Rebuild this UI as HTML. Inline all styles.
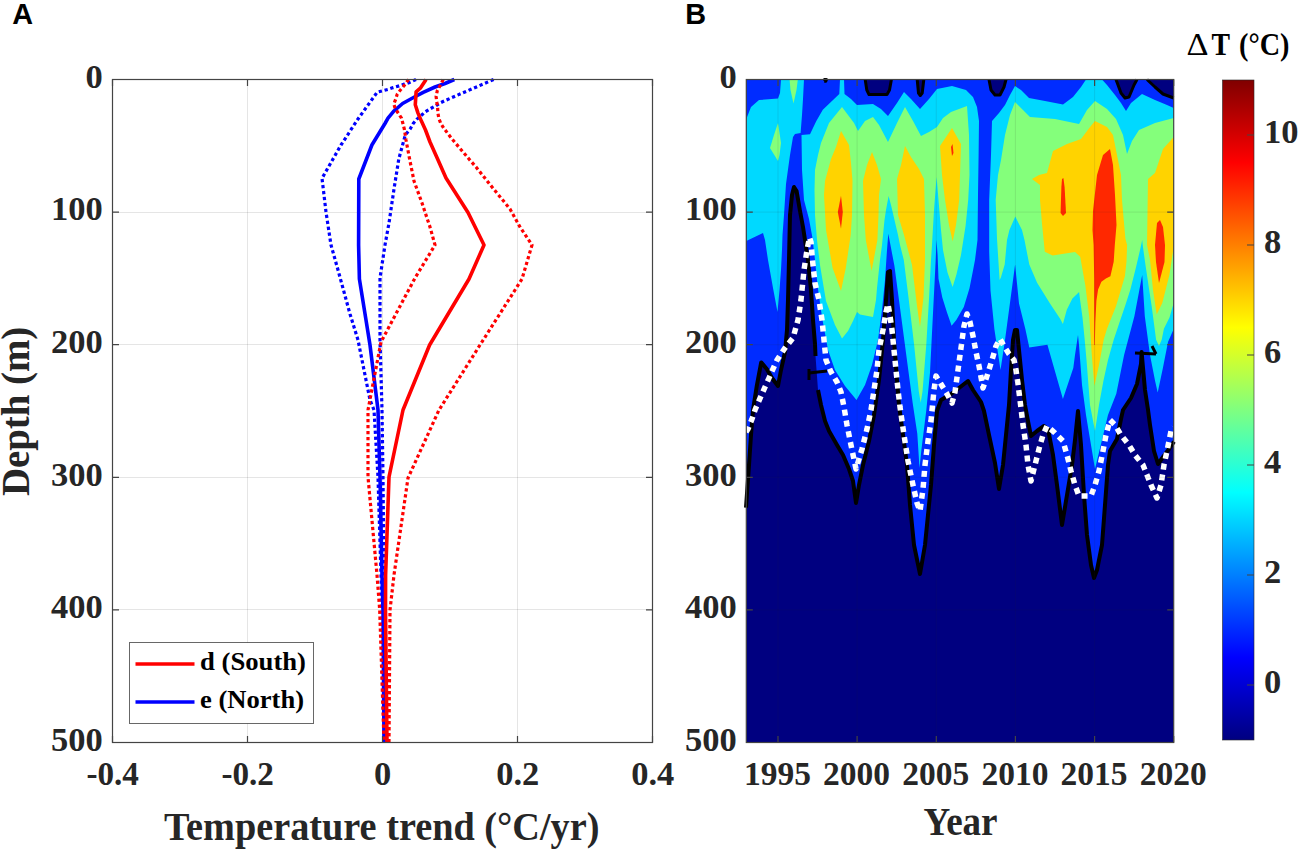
<!DOCTYPE html><html><head><meta charset="utf-8"><style>html,body{margin:0;padding:0;background:#fff;}svg{display:block;}</style></head><body><svg width="1299" height="851" viewBox="0 0 1299 851">
<rect width="1299" height="851" fill="#fff"/>
<g shape-rendering="crispEdges">
<line x1="247.5" y1="79.5" x2="247.5" y2="742.5" stroke="#262626" stroke-opacity="0.12" stroke-width="1"/>
<line x1="382.5" y1="79.5" x2="382.5" y2="742.5" stroke="#262626" stroke-opacity="0.12" stroke-width="1"/>
<line x1="517.5" y1="79.5" x2="517.5" y2="742.5" stroke="#262626" stroke-opacity="0.12" stroke-width="1"/>
<line x1="112.5" y1="212.1" x2="652.5" y2="212.1" stroke="#262626" stroke-opacity="0.12" stroke-width="1"/>
<line x1="112.5" y1="344.7" x2="652.5" y2="344.7" stroke="#262626" stroke-opacity="0.12" stroke-width="1"/>
<line x1="112.5" y1="477.3" x2="652.5" y2="477.3" stroke="#262626" stroke-opacity="0.12" stroke-width="1"/>
<line x1="112.5" y1="609.9" x2="652.5" y2="609.9" stroke="#262626" stroke-opacity="0.12" stroke-width="1"/>
</g>
<polyline points="416.0,79.5 409.7,82.4 404.4,84.1 399.1,85.9 393.2,87.6 387.9,89.4 377.2,92.2 358.0,119.0 341.0,145.0 322.0,178.3 324.0,195.0 326.0,212.0 331.0,245.0 338.0,270.0 350.0,314.0 358.0,340.0 370.0,400.0 374.0,410.0 378.0,477.0 381.0,575.0 382.0,610.0 384.0,742.5" fill="none" stroke="#0000ff" stroke-width="3.2" stroke-linejoin="round" stroke-dasharray="3.3 2.7"/>
<polyline points="493.6,79.5 445.0,100.6 440.2,102.9 435.5,105.9 430.2,108.8 425.5,111.7 421.4,115.3 416.7,119.4 413.2,123.5 410.3,128.8 405.3,135.0 398.8,159.0 394.0,189.0 389.0,223.0 385.0,245.0 380.0,278.0 380.0,340.0 382.0,410.0 383.0,477.0 384.0,575.0 385.0,610.0 385.5,742.5" fill="none" stroke="#0000ff" stroke-width="3.2" stroke-linejoin="round" stroke-dasharray="3.3 2.7"/>
<polyline points="454.3,79.5 445.0,83.5 435.0,87.0 423.2,92.3 414.4,97.0 402.6,103.5 393.8,111.1 388.0,118.2 385.0,123.5 371.9,145.0 358.8,179.0 358.6,245.0 359.4,279.0 366.0,320.0 370.0,345.0 378.0,410.0 380.0,477.0 382.0,575.0 383.0,610.0 384.0,742.5" fill="none" stroke="#0000ff" stroke-width="3.6" stroke-linejoin="round" />
<polyline points="408.5,79.5 404.4,85.3 400.9,89.4 397.3,94.1 395.6,99.4 393.8,104.1 395.3,108.8 398.5,113.5 401.5,118.2 402.9,123.5 404.4,129.4 406.0,140.0 409.6,159.0 414.0,181.0 422.0,203.0 430.0,227.0 435.0,245.0 415.0,278.0 381.0,342.0 368.0,410.0 368.0,477.0 377.0,575.0 379.7,610.0 384.0,742.5" fill="none" stroke="#ff0000" stroke-width="3.2" stroke-linejoin="round" stroke-dasharray="3.3 2.7"/>
<polyline points="443.2,79.5 439.9,85.9 437.3,90.6 436.1,96.5 436.7,101.7 437.6,107.0 437.9,112.9 438.8,118.2 440.8,123.5 443.8,128.2 452.0,139.0 469.0,159.0 476.0,167.0 492.0,187.0 510.0,209.0 520.0,227.0 532.0,245.0 522.0,279.0 480.0,345.0 439.0,410.0 408.0,478.0 394.0,575.0 390.0,610.0 389.0,742.5" fill="none" stroke="#ff0000" stroke-width="3.2" stroke-linejoin="round" stroke-dasharray="3.3 2.7"/>
<polyline points="426.1,79.5 420.3,88.2 416.1,91.8 415.3,104.7 417.9,112.9 421.4,121.1 425.5,130.0 430.0,142.0 437.6,159.0 446.0,178.0 468.0,212.5 484.0,245.0 469.0,279.0 429.6,345.0 403.0,410.0 389.0,477.0 385.6,575.0 385.5,610.0 387.0,742.5" fill="none" stroke="#ff0000" stroke-width="3.6" stroke-linejoin="round" />
<rect x="112.5" y="79.5" width="540.0" height="663.0" fill="none" stroke="#444" stroke-width="1.2"/>
<path d="M112.5,79.5v6.5M112.5,742.5v-6.5M247.5,79.5v6.5M247.5,742.5v-6.5M382.5,79.5v6.5M382.5,742.5v-6.5M517.5,79.5v6.5M517.5,742.5v-6.5M652.5,79.5v6.5M652.5,742.5v-6.5M112.5,79.5h6.5M652.5,79.5h-6.5M112.5,212.1h6.5M652.5,212.1h-6.5M112.5,344.7h6.5M652.5,344.7h-6.5M112.5,477.3h6.5M652.5,477.3h-6.5M112.5,609.9h6.5M652.5,609.9h-6.5M112.5,742.5h6.5M652.5,742.5h-6.5" stroke="#444" stroke-width="1.2" fill="none"/>
<rect x="129.5" y="642.5" width="184" height="81" fill="#fff" stroke="#262626" stroke-width="1" stroke-opacity="0.7"/>
<line x1="135.5" y1="664" x2="194.5" y2="664" stroke="#ff0000" stroke-width="3.6"/>
<line x1="135.5" y1="702" x2="194.5" y2="702" stroke="#0000ff" stroke-width="3.6"/>
<text x="200" y="670" font-family="Liberation Serif" font-size="26" font-weight="bold" fill="#000" text-anchor="start" textLength="106" lengthAdjust="spacingAndGlyphs">d (South)</text>
<text x="200" y="707.5" font-family="Liberation Serif" font-size="26" font-weight="bold" fill="#000" text-anchor="start" textLength="104" lengthAdjust="spacingAndGlyphs">e (North)</text>
<text x="102.8" y="87.7" font-family="Liberation Serif" font-size="34.5" font-weight="bold" fill="#262626" text-anchor="end" >0</text>
<text x="102.8" y="220.29999999999998" font-family="Liberation Serif" font-size="34.5" font-weight="bold" fill="#262626" text-anchor="end" >100</text>
<text x="102.8" y="352.9" font-family="Liberation Serif" font-size="34.5" font-weight="bold" fill="#262626" text-anchor="end" >200</text>
<text x="102.8" y="485.5" font-family="Liberation Serif" font-size="34.5" font-weight="bold" fill="#262626" text-anchor="end" >300</text>
<text x="102.8" y="618.1" font-family="Liberation Serif" font-size="34.5" font-weight="bold" fill="#262626" text-anchor="end" >400</text>
<text x="102.8" y="750.7" font-family="Liberation Serif" font-size="34.5" font-weight="bold" fill="#262626" text-anchor="end" >500</text>
<text x="112.7" y="784.5" font-family="Liberation Serif" font-size="34.5" font-weight="bold" fill="#262626" text-anchor="middle" textLength="52.5" lengthAdjust="spacingAndGlyphs">-0.4</text>
<text x="247.7" y="784.5" font-family="Liberation Serif" font-size="34.5" font-weight="bold" fill="#262626" text-anchor="middle" textLength="52.5" lengthAdjust="spacingAndGlyphs">-0.2</text>
<text x="382.7" y="784.5" font-family="Liberation Serif" font-size="34.5" font-weight="bold" fill="#262626" text-anchor="middle" >0</text>
<text x="517.7" y="784.5" font-family="Liberation Serif" font-size="34.5" font-weight="bold" fill="#262626" text-anchor="middle" >0.2</text>
<text x="652.7" y="784.5" font-family="Liberation Serif" font-size="34.5" font-weight="bold" fill="#262626" text-anchor="middle" >0.4</text>
<text x="164" y="839.5" font-family="Liberation Serif" font-size="39.5" font-weight="bold" fill="#262626" text-anchor="start" textLength="435.5" lengthAdjust="spacingAndGlyphs">Temperature trend (°C/yr)</text>
<g transform="translate(28.7,496) rotate(-90)"><text x="0" y="0" font-family="Liberation Serif" font-size="39.5" font-weight="bold" fill="#262626" text-anchor="start" textLength="169.3" lengthAdjust="spacingAndGlyphs">Depth (m)</text></g>
<rect x="746.3" y="79.5" width="427.4000000000001" height="663.0" fill="#000080"/>
<polygon points="746.3,79.5 1173.7,79.5 1173.7,441.6 1174.0,441.6 1169.0,449.0 1163.0,457.0 1158.0,464.0 1154.0,451.0 1150.0,425.0 1148.0,409.8 1145.0,390.0 1143.0,368.0 1141.6,352.0 1141.0,364.0 1137.0,384.0 1131.0,398.0 1123.0,410.0 1121.0,419.0 1117.0,439.0 1110.0,451.0 1108.0,465.0 1105.0,505.0 1102.0,545.0 1097.0,570.0 1094.0,578.0 1091.0,565.0 1087.0,535.0 1084.0,495.0 1081.0,445.0 1078.0,411.0 1075.0,440.0 1072.0,465.0 1067.0,495.0 1062.0,525.0 1057.0,485.0 1053.0,455.0 1048.0,429.0 1044.0,426.0 1037.0,431.0 1031.0,436.0 1028.0,421.0 1025.0,405.0 1022.0,380.0 1019.0,350.0 1017.0,330.0 1015.0,330.0 1013.0,340.0 1011.0,370.0 1009.0,405.0 1006.0,435.0 1003.0,465.0 999.0,489.0 995.0,463.0 989.0,435.0 984.0,411.0 981.0,402.0 973.0,390.0 968.0,381.0 959.0,388.0 951.0,394.0 941.0,400.0 937.0,411.0 934.0,445.0 931.0,485.0 928.0,515.0 925.0,545.0 920.0,574.0 914.0,545.0 910.0,505.0 907.0,465.0 903.0,435.0 899.0,405.0 897.0,380.0 894.0,340.0 892.0,300.0 890.0,271.0 888.0,272.0 886.0,300.0 883.0,340.0 879.0,380.0 874.0,415.0 869.0,441.0 863.0,465.0 859.0,485.0 856.0,503.0 853.0,481.0 849.0,469.0 843.0,455.0 837.0,445.0 829.0,431.0 825.0,421.0 821.0,405.0 818.0,390.0 815.5,356.0 815.0,344.0 813.0,320.0 811.0,290.0 808.0,260.0 805.0,240.0 803.0,227.0 800.0,211.0 796.6,191.0 794.0,187.0 792.0,195.0 790.0,215.0 789.0,260.0 788.0,300.0 787.0,330.0 785.0,352.0 781.0,370.0 778.0,386.0 772.0,378.0 766.8,369.0 761.2,362.4 756.8,385.9 753.0,410.0 751.0,435.0 749.0,465.0 746.0,507.7" fill="#002cff"/>
<polygon points="781.0,79.5 804.0,79.5 803.0,99.0 802.0,115.0 800.6,133.0 795.0,134.0 793.0,137.0 790.0,155.0 786.0,184.0 784.0,215.0 782.5,235.0 782.0,250.0 781.0,270.0 779.5,290.0 777.5,312.0 773.0,288.0 768.0,260.0 765.0,240.0 763.0,233.0 746.3,241.0 746.3,119.0 751.0,107.0 759.0,100.0 778.0,98.6 780.0,93.0" fill="#00d9ff"/>
<polygon points="840.0,79.5 844.0,79.5 844.5,94.0 851.0,99.0 857.0,105.0 873.0,104.0 881.0,109.0 888.0,116.0 897.0,103.0 904.0,92.0 911.0,99.0 920.0,109.0 929.0,99.0 937.0,89.0 952.0,86.0 966.0,90.0 973.0,97.0 977.0,107.0 979.0,121.0 978.6,155.0 978.0,195.0 977.5,240.0 975.0,260.0 973.2,269.4 969.5,288.2 963.8,307.0 956.3,320.1 951.6,325.7 947.0,312.6 942.3,297.6 938.5,278.8 937.6,255.0 936.5,240.0 935.7,260.0 933.8,297.6 931.9,335.1 930.0,372.7 926.3,410.2 921.5,449.0 919.5,468.0 917.3,433.7 912.7,403.2 906.6,357.4 900.5,311.6 894.4,265.8 888.3,233.7 887.0,250.0 885.0,280.0 882.0,310.0 878.0,340.0 872.0,365.0 865.0,385.0 856.5,400.0 845.0,386.0 835.0,370.0 828.0,350.0 822.0,317.0 817.6,286.0 815.0,260.0 812.3,237.0 809.0,219.0 804.0,200.0 802.0,170.0 801.5,135.0 810.0,134.3 816.2,121.3 822.8,109.8 839.3,94.0" fill="#00d9ff"/>
<polygon points="1086.0,79.5 1102.0,79.5 1107.0,85.0 1115.0,95.0 1121.0,103.0 1126.0,111.0 1131.0,103.0 1142.0,94.0 1155.0,100.0 1167.0,105.0 1173.7,108.0 1173.7,329.0 1168.0,342.0 1162.9,368.0 1157.7,392.5 1155.1,380.9 1150.0,355.0 1144.8,316.3 1142.2,275.0 1134.4,316.3 1124.1,355.0 1116.3,393.8 1108.0,415.0 1095.0,469.0 1086.0,415.0 1082.0,385.0 1079.0,345.0 1078.0,335.0 1075.0,355.0 1073.3,368.0 1062.9,399.0 1047.4,344.8 1029.3,347.4 1025.4,329.3 1019.0,303.4 1015.1,264.6 1009.9,303.4 1004.7,342.2 1000.5,370.0 998.3,355.2 994.4,329.3 990.5,290.5 989.2,251.7 989.2,200.0 991.0,155.0 992.0,121.0 999.0,113.0 1005.0,105.0 1010.0,95.0 1015.0,86.0 1021.0,90.0 1029.0,98.0 1045.0,101.0 1063.0,104.6 1073.0,97.0 1081.0,87.0" fill="#00d9ff"/>
<polygon points="789.6,79.5 797.8,79.5 796.5,90.0 793.5,103.5 790.5,90.0" fill="#84ff7b"/>
<polygon points="778.0,123.0 781.0,143.0 779.5,155.0 778.0,161.0 770.0,148.0 774.0,135.0" fill="#84ff7b"/>
<polygon points="821.0,143.0 829.0,123.0 842.0,107.0 854.0,123.0 858.0,131.0 865.0,121.0 873.0,117.0 879.0,125.0 888.0,142.0 897.0,123.0 905.0,107.0 913.0,121.0 921.0,136.0 929.0,132.0 937.0,127.0 943.0,118.0 951.0,112.0 967.0,106.0 969.0,135.0 969.5,175.0 968.2,200.0 965.6,225.8 961.0,255.0 956.3,275.0 952.6,287.0 947.5,272.4 943.0,250.0 941.0,230.0 936.6,177.0 934.0,210.0 932.0,244.8 931.0,260.0 929.1,297.6 926.3,344.5 922.5,391.5 920.7,402.7 918.8,391.5 914.1,344.5 908.5,297.6 903.8,260.0 900.0,245.0 898.0,235.0 894.5,220.0 891.0,205.0 888.6,196.0 886.0,210.0 884.5,220.0 883.0,235.0 882.0,245.0 880.0,260.0 877.0,288.0 876.0,300.0 873.0,317.0 860.0,314.5 857.0,312.0 853.0,321.0 848.0,331.0 842.0,338.5 835.0,325.0 826.0,301.0 820.0,265.0 817.0,240.0 815.0,215.0 814.5,190.0 815.0,170.0 818.0,155.0" fill="#84ff7b"/>
<polygon points="1015.0,102.0 1023.0,110.0 1030.0,117.0 1055.0,119.0 1079.0,124.0 1087.0,110.0 1095.0,101.0 1107.0,109.0 1116.0,119.0 1123.0,135.0 1127.0,154.0 1132.0,141.0 1139.0,130.0 1155.0,123.0 1173.7,118.0 1173.7,303.0 1169.5,317.5 1163.9,328.7 1161.7,339.8 1159.0,346.0 1156.1,339.8 1153.9,323.1 1151.7,306.4 1148.3,284.1 1145.0,261.7 1142.7,245.0 1142.2,240.0 1140.5,248.0 1136.0,267.3 1130.4,289.6 1124.9,306.4 1119.3,323.1 1113.7,339.8 1108.0,360.0 1103.4,380.9 1099.0,405.0 1095.0,431.0 1090.0,405.0 1086.5,360.0 1084.7,339.8 1082.5,317.5 1080.2,300.8 1079.1,291.9 1072.4,298.6 1066.8,309.7 1062.9,324.1 1060.3,319.0 1050.0,303.4 1037.1,282.7 1029.3,264.6 1024.5,240.0 1022.0,230.0 1015.3,216.5 1009.4,230.0 1007.0,240.0 1004.7,264.6 1000.9,277.6 999.6,280.0 997.0,238.8 995.7,200.0 998.0,175.0 1001.0,160.0 1005.0,135.0 1010.0,115.0" fill="#84ff7b"/>
<polygon points="841.0,131.0 849.0,145.0 851.0,163.0 852.5,181.0 852.0,215.0 850.7,235.0 845.8,268.0 841.0,291.0 832.6,268.0 826.0,230.0 824.0,195.0 825.0,181.0 831.0,159.0 836.0,147.0" fill="#ffd300"/>
<polygon points="872.0,152.0 877.0,165.0 881.0,179.0 879.0,195.0 878.5,215.0 877.4,240.0 871.6,271.0 865.8,240.0 864.0,215.0 863.0,181.0 867.0,165.0" fill="#ffd300"/>
<polygon points="905.0,146.0 911.0,157.0 919.0,169.0 924.0,179.0 925.0,215.0 925.0,260.0 923.5,297.6 920.0,327.0 917.0,306.0 912.0,265.0 904.0,235.0 898.0,215.0 897.0,179.0 901.0,165.0" fill="#ffd300"/>
<polygon points="952.0,128.0 961.0,144.0 960.0,175.0 959.2,200.0 956.0,225.0 952.7,241.4 949.0,225.0 945.0,200.0 942.0,175.0 940.0,146.0" fill="#ffd300"/>
<polygon points="1095.0,121.0 1107.0,127.0 1113.0,135.0 1117.0,155.0 1121.0,175.0 1122.0,200.0 1125.4,238.8 1127.1,245.0 1126.5,261.7 1124.9,276.3 1122.6,284.1 1119.3,295.2 1115.9,306.4 1111.5,317.5 1107.0,328.7 1103.7,339.8 1099.0,365.0 1094.4,386.0 1091.8,355.0 1089.2,316.3 1085.3,285.3 1080.2,256.8 1075.0,252.0 1052.6,255.6 1044.8,251.7 1042.2,225.8 1040.0,200.0 1040.0,185.0 1032.0,179.0 1039.0,175.0 1047.0,173.0 1053.0,151.0 1067.0,144.0 1081.0,139.0 1090.0,127.0" fill="#ffd300"/>
<polygon points="1148.0,179.0 1155.0,173.0 1163.0,149.0 1173.7,137.0 1173.7,247.0 1169.4,275.0 1162.3,303.0 1156.7,314.6 1153.0,290.0 1150.0,260.0 1147.0,245.0" fill="#ffd300"/>
<polygon points="841.0,195.7 842.8,212.0 841.0,228.6 837.8,212.0" fill="#ff2800"/>
<polygon points="951.0,147.0 952.5,144.0 953.5,153.0 952.0,156.0" fill="#ff2800"/>
<polygon points="1062.0,179.0 1063.4,178.0 1064.6,187.0 1066.0,213.0 1063.0,216.0 1060.6,213.0 1061.4,187.0" fill="#ff2800"/>
<polygon points="1110.0,149.0 1113.0,165.0 1115.0,195.0 1116.5,225.0 1114.8,245.0 1113.7,261.7 1110.4,276.3 1105.9,278.5 1101.4,281.8 1098.1,289.6 1096.4,300.8 1095.3,323.1 1094.8,345.0 1094.2,345.0 1094.2,278.5 1093.6,245.0 1092.5,230.0 1093.0,211.0 1097.0,175.0 1103.0,155.0" fill="#ff2800"/>
<polygon points="1160.0,220.0 1163.0,227.0 1165.0,245.0 1164.5,262.0 1159.0,283.0 1156.0,262.0 1155.0,245.0 1157.0,223.0" fill="#ff2800"/>
<polygon points="865.2,79.5 866.8,90.0 869.0,94.5 887.0,94.5 889.5,90.0 891.4,79.5" fill="#000080"/>
<polygon points="917.2,79.5 918.5,93.0 920.3,95.5 922.2,93.0 923.8,79.5" fill="#000080"/>
<polygon points="989.0,79.5 991.0,90.0 995.0,95.0 1000.0,95.0 1004.0,87.0 1006.0,79.5" fill="#000080"/>
<polygon points="1116.0,79.5 1121.0,93.0 1125.0,98.0 1129.0,97.0 1134.0,85.0 1137.0,79.5" fill="#000080"/>
<polygon points="1147.0,79.5 1155.0,87.0 1163.0,94.0 1173.7,98.0 1173.7,79.5" fill="#000080"/>
<polygon points="823.5,79.5 826.5,79.5 825.8,81.3 824.2,81.3" fill="#000080"/>
<polyline points="746.0,507.7 749.0,465.0 751.0,435.0 753.0,410.0 756.8,385.9 761.2,362.4 766.8,369.0 772.0,378.0 778.0,386.0 781.0,370.0 785.0,352.0 787.0,330.0 788.0,300.0 789.0,260.0 790.0,215.0 792.0,195.0 794.0,187.0 796.6,191.0 800.0,211.0 803.0,227.0 805.0,240.0 808.0,260.0 811.0,290.0 813.0,320.0 815.0,344.0 815.5,356.0" fill="none" stroke="#000" stroke-width="4" stroke-linejoin="round"/>
<polyline points="818.0,390.0 821.0,405.0 825.0,421.0 829.0,431.0 837.0,445.0 843.0,455.0 849.0,469.0 853.0,481.0 856.0,503.0 859.0,485.0 863.0,465.0 869.0,441.0 874.0,415.0 879.0,380.0 883.0,340.0 886.0,300.0 888.0,272.0 890.0,271.0 892.0,300.0 894.0,340.0 897.0,380.0 899.0,405.0 903.0,435.0 907.0,465.0 910.0,505.0 914.0,545.0 920.0,574.0 925.0,545.0 928.0,515.0 931.0,485.0 934.0,445.0 937.0,411.0 941.0,400.0 951.0,394.0 959.0,388.0 968.0,381.0 973.0,390.0 981.0,402.0 984.0,411.0 989.0,435.0 995.0,463.0 999.0,489.0 1003.0,465.0 1006.0,435.0 1009.0,405.0 1011.0,370.0 1013.0,340.0 1015.0,330.0 1017.0,330.0 1019.0,350.0 1022.0,380.0 1025.0,405.0 1028.0,421.0 1031.0,436.0 1037.0,431.0 1044.0,426.0 1048.0,429.0 1053.0,455.0 1057.0,485.0 1062.0,525.0 1067.0,495.0 1072.0,465.0 1075.0,440.0 1078.0,411.0 1081.0,445.0 1084.0,495.0 1087.0,535.0 1091.0,565.0 1094.0,578.0 1097.0,570.0 1102.0,545.0 1105.0,505.0 1108.0,465.0 1110.0,451.0 1117.0,439.0 1121.0,419.0 1123.0,410.0 1131.0,398.0 1137.0,384.0 1141.0,364.0 1141.6,352.0 1143.0,368.0 1145.0,390.0 1148.0,409.8 1150.0,425.0 1154.0,451.0 1158.0,464.0 1163.0,457.0 1169.0,449.0 1174.0,441.6" fill="none" stroke="#000" stroke-width="4" stroke-linejoin="round"/>
<polyline points="865.2,79.5 866.8,90.0 869.0,94.5 887.0,94.5 889.5,90.0 891.4,79.5" fill="none" stroke="#000" stroke-width="3" stroke-linejoin="round"/>
<polyline points="917.2,79.5 918.5,93.0 920.3,95.5 922.2,93.0 923.8,79.5" fill="none" stroke="#000" stroke-width="3" stroke-linejoin="round"/>
<polyline points="989.0,79.5 991.0,90.0 995.0,95.0 1000.0,95.0 1004.0,87.0 1006.0,79.5" fill="none" stroke="#000" stroke-width="3" stroke-linejoin="round"/>
<polyline points="1116.0,79.5 1121.0,93.0 1125.0,98.0 1129.0,97.0 1134.0,85.0 1137.0,79.5" fill="none" stroke="#000" stroke-width="3" stroke-linejoin="round"/>
<polyline points="1147.0,79.5 1155.0,87.0 1163.0,94.0 1173.7,98.0" fill="none" stroke="#000" stroke-width="3" stroke-linejoin="round"/>
<polyline points="823.5,79.5 826.5,79.5 825.8,81.3 824.2,81.3" fill="none" stroke="#000" stroke-width="3" stroke-linejoin="round"/>
<polyline points="809.0,373.0 827.0,371.0" fill="none" stroke="#000" stroke-width="3"/>
<polyline points="809.0,369.0 809.0,380.0" fill="none" stroke="#000" stroke-width="3"/>
<polyline points="1135.0,353.0 1156.0,354.0" fill="none" stroke="#000" stroke-width="3"/>
<polyline points="1152.0,346.0 1156.0,354.0" fill="none" stroke="#000" stroke-width="3"/>
<polyline points="746.0,432.0 748.0,429.0 752.0,419.0 755.0,410.0 761.0,396.0 769.0,378.0 777.0,360.0 785.0,348.0 793.0,338.0 798.0,320.0 801.0,300.0 804.0,270.0 807.0,250.0 809.5,237.5 811.0,242.0 812.5,260.0 815.0,283.0 819.0,300.0 822.0,320.0 824.0,340.0 826.0,360.0 831.0,372.0 837.0,382.0 841.0,392.0 844.0,407.0 847.0,425.0 851.0,445.0 856.0,469.0 862.0,449.0 867.0,429.0 871.0,410.0 874.0,390.0 877.0,370.0 879.0,350.0 883.0,330.0 886.0,312.0 888.0,304.0 890.0,316.0 892.0,330.0 894.0,350.0 896.0,370.0 898.0,390.0 900.0,407.0 904.0,435.0 908.0,461.0 913.0,485.0 917.0,503.0 920.0,511.0 923.0,489.0 925.0,465.0 928.0,441.0 931.0,421.0 934.0,390.0 936.0,376.0 941.0,384.0 947.0,394.0 952.0,403.0 955.0,392.0 958.0,370.0 961.0,348.0 964.0,326.0 967.0,314.0 970.0,322.0 973.0,336.0 976.0,352.0 979.0,366.0 983.0,388.0 987.0,376.0 992.0,360.0 996.0,346.0 1000.0,339.0 1004.0,346.0 1009.0,354.0 1014.0,360.0 1016.0,370.0 1018.0,384.0 1020.0,400.0 1023.0,425.0 1026.0,445.0 1028.0,465.0 1031.0,481.0 1035.0,465.0 1039.0,449.0 1043.0,435.0 1047.0,426.0 1055.0,433.0 1063.0,441.0 1067.0,455.0 1071.0,471.0 1075.0,485.0 1079.0,496.0 1091.0,496.0 1095.0,485.0 1099.0,471.0 1103.0,451.0 1106.0,435.0 1110.0,420.0 1115.0,425.0 1121.0,435.0 1129.0,445.0 1135.0,455.0 1143.0,465.0 1147.0,475.0 1151.0,485.0 1157.0,498.0 1161.0,485.0 1164.0,465.0 1167.0,451.0 1171.0,431.0 1173.7,427.0" fill="none" stroke="#fff" stroke-width="5.5" stroke-dasharray="6 5" stroke-linejoin="round"/>
<path d="M778.0,79.5V742.5M857.1,79.5V742.5M936.3,79.5V742.5M1015.4,79.5V742.5M1094.6,79.5V742.5M746.3,212.1H1173.7M746.3,344.7H1173.7M746.3,477.3H1173.7M746.3,609.9H1173.7" stroke="#262626" stroke-opacity="0.1" stroke-width="1" fill="none"/>
<rect x="746.3" y="79.5" width="427.4000000000001" height="663.0" fill="none" stroke="#444" stroke-width="1.2"/>
<path d="M778.0,79.5v6.5M778.0,742.5v-6.5M857.1,79.5v6.5M857.1,742.5v-6.5M936.3,79.5v6.5M936.3,742.5v-6.5M1015.4,79.5v6.5M1015.4,742.5v-6.5M1094.6,79.5v6.5M1094.6,742.5v-6.5M1173.7,79.5v6.5M1173.7,742.5v-6.5M746.3,79.5h6.5M1173.7,79.5h-6.5M746.3,212.1h6.5M1173.7,212.1h-6.5M746.3,344.7h6.5M1173.7,344.7h-6.5M746.3,477.3h6.5M1173.7,477.3h-6.5M746.3,609.9h6.5M1173.7,609.9h-6.5M746.3,742.5h6.5M1173.7,742.5h-6.5" stroke="#444" stroke-width="1.2" fill="none"/>
<text x="736.7" y="87.7" font-family="Liberation Serif" font-size="34.5" font-weight="bold" fill="#262626" text-anchor="end" >0</text>
<text x="736.7" y="220.29999999999998" font-family="Liberation Serif" font-size="34.5" font-weight="bold" fill="#262626" text-anchor="end" >100</text>
<text x="736.7" y="352.9" font-family="Liberation Serif" font-size="34.5" font-weight="bold" fill="#262626" text-anchor="end" >200</text>
<text x="736.7" y="485.5" font-family="Liberation Serif" font-size="34.5" font-weight="bold" fill="#262626" text-anchor="end" >300</text>
<text x="736.7" y="618.1" font-family="Liberation Serif" font-size="34.5" font-weight="bold" fill="#262626" text-anchor="end" >400</text>
<text x="736.7" y="750.7" font-family="Liberation Serif" font-size="34.5" font-weight="bold" fill="#262626" text-anchor="end" >500</text>
<text x="777.4599999999999" y="784.5" font-family="Liberation Serif" font-size="34.5" font-weight="bold" fill="#262626" text-anchor="middle" textLength="67" lengthAdjust="spacingAndGlyphs">1995</text>
<text x="856.6099999999999" y="784.5" font-family="Liberation Serif" font-size="34.5" font-weight="bold" fill="#262626" text-anchor="middle" textLength="67" lengthAdjust="spacingAndGlyphs">2000</text>
<text x="935.76" y="784.5" font-family="Liberation Serif" font-size="34.5" font-weight="bold" fill="#262626" text-anchor="middle" textLength="67" lengthAdjust="spacingAndGlyphs">2005</text>
<text x="1014.91" y="784.5" font-family="Liberation Serif" font-size="34.5" font-weight="bold" fill="#262626" text-anchor="middle" textLength="67" lengthAdjust="spacingAndGlyphs">2010</text>
<text x="1094.06" y="784.5" font-family="Liberation Serif" font-size="34.5" font-weight="bold" fill="#262626" text-anchor="middle" textLength="67" lengthAdjust="spacingAndGlyphs">2015</text>
<text x="1173.21" y="784.5" font-family="Liberation Serif" font-size="34.5" font-weight="bold" fill="#262626" text-anchor="middle" textLength="67" lengthAdjust="spacingAndGlyphs">2020</text>
<text x="923.5" y="835.2" font-family="Liberation Serif" font-size="39.5" font-weight="bold" fill="#262626" text-anchor="start" textLength="74" lengthAdjust="spacingAndGlyphs">Year</text>
<defs><linearGradient id="jet" x1="0" y1="1" x2="0" y2="0"><stop offset="0" stop-color="#000080"/><stop offset="0.125" stop-color="#0000ff"/><stop offset="0.375" stop-color="#00ffff"/><stop offset="0.625" stop-color="#ffff00"/><stop offset="0.875" stop-color="#ff0000"/><stop offset="1" stop-color="#800000"/></linearGradient></defs>
<rect x="1222.5" y="80" width="31.5" height="660" fill="url(#jet)" stroke="#262626" stroke-width="0.6"/>
<text x="1264" y="693.2" font-family="Liberation Serif" font-size="34.5" font-weight="bold" fill="#262626" text-anchor="start" >0</text>
<text x="1264" y="583.2" font-family="Liberation Serif" font-size="34.5" font-weight="bold" fill="#262626" text-anchor="start" >2</text>
<text x="1264" y="473.2" font-family="Liberation Serif" font-size="34.5" font-weight="bold" fill="#262626" text-anchor="start" >4</text>
<text x="1264" y="363.2" font-family="Liberation Serif" font-size="34.5" font-weight="bold" fill="#262626" text-anchor="start" >6</text>
<text x="1264" y="253.2" font-family="Liberation Serif" font-size="34.5" font-weight="bold" fill="#262626" text-anchor="start" >8</text>
<text x="1264" y="143.2" font-family="Liberation Serif" font-size="34.5" font-weight="bold" fill="#262626" text-anchor="start" >10</text>
<path d="M1254,685h-7M1254,575h-7M1254,465h-7M1254,355h-7M1254,245h-7M1254,135h-7" stroke="#444" stroke-width="1.2" fill="none"/>
<text x="1186.5" y="55" font-family="Liberation Serif" font-size="32" fill="#000" textLength="22" lengthAdjust="spacingAndGlyphs">Δ</text>
<text x="1211.5" y="55" font-family="Liberation Serif" font-size="32" font-weight="bold" fill="#000" textLength="18.5" lengthAdjust="spacingAndGlyphs">T</text>
<text x="1239" y="55" font-family="Liberation Serif" font-size="32" font-weight="bold" fill="#000" textLength="50.5" lengthAdjust="spacingAndGlyphs">(°C)</text>
<g transform="translate(12.3,24.4) scale(1.03,1.06)"><text x="0" y="0" font-family="Liberation Sans" font-size="28" font-weight="bold" fill="#000" text-anchor="start" >A</text></g>
<g transform="translate(685.3,24.4) scale(1.03,1.06)"><text x="0" y="0" font-family="Liberation Sans" font-size="28" font-weight="bold" fill="#000" text-anchor="start" >B</text></g>
</svg></body></html>
